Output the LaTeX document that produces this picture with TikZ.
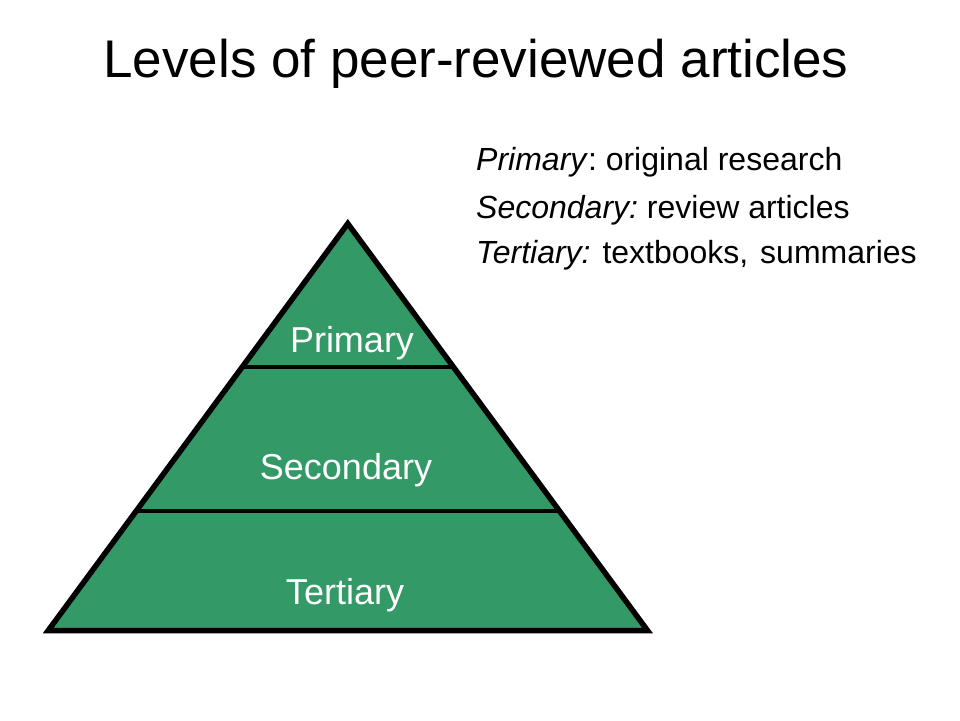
\documentclass[tikz,border=0pt]{standalone}
\usepackage{fontspec}
\setmainfont{Liberation Sans}
\usetikzlibrary{calc}
\frenchspacing
\definecolor{pyrgreen}{RGB}{51,153,102}
\tikzset{
  pyredge/.style={draw=black, line width=5.5pt, line join=miter},
  pyrsep/.style={draw=black, line width=4.5pt},
  lvl/.style={text=white, font=\fontsize{36}{40}\selectfont, anchor=base, inner sep=0pt},
  deftext/.style={font=\fontsize{32}{36}\selectfont, anchor=base west, inner sep=0pt},
  titletext/.style={font=\fontsize{53}{60}\selectfont, anchor=base, inner sep=0pt}
}
\begin{document}
\begin{tikzpicture}[x=1pt,y=-1pt]
\useasboundingbox (0,0) rectangle (960,720);
\coordinate (A) at (347.8,223.6);
\coordinate (L) at (48.2,630.5);
\coordinate (R) at (647.5,630.5);
\coordinate (s1l) at ($(A)!0.3524!(L)$);
\coordinate (s1r) at ($(A)!0.3524!(R)$);
\coordinate (s2l) at ($(A)!0.7063!(L)$);
\coordinate (s2r) at ($(A)!0.7063!(R)$);
\fill[pyrgreen] (A) -- (L) -- (R) -- cycle;
\draw[pyrsep] (s1l) -- (s1r);
\draw[pyrsep] (s2l) -- (s2r);
\draw[pyredge] (A) -- (L) -- (R) -- cycle;
\node[titletext] (title) at (476,77.5) {Levels of peer-reviewed articles};
\node[lvl] (prim) at (352,352) {Primary};
\node[lvl] (sec) at (346,479) {Secondary};
\node[lvl] (ter) at (345,604) {Tertiary};
\node[deftext] (d1) at (476,170) {\textit{Primary}: original research};
\node[deftext] (d2) at (476,218) {\textit{Secondary:} review articles};
\node[deftext] (d3) at (476,263) {\textit{Tertiary:}\hspace{3pt} textbooks,\hspace{3pt} summaries};
\end{tikzpicture}
\end{document}
